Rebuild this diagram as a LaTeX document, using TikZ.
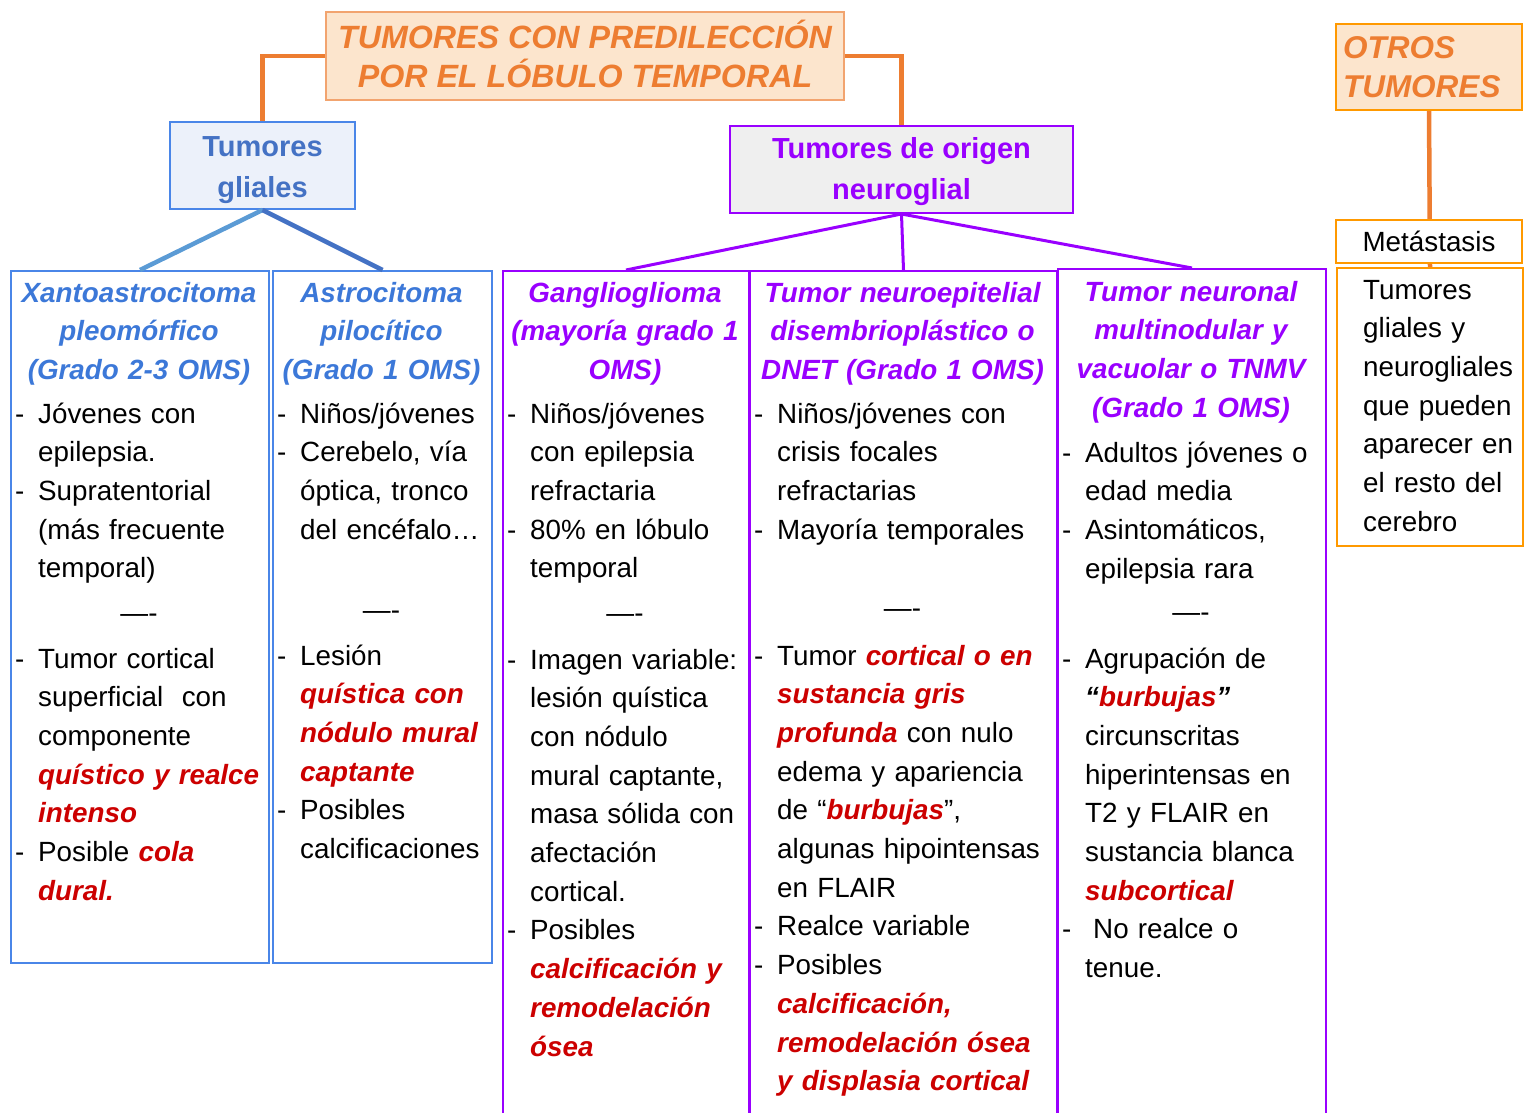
\documentclass[tikz,border=0pt]{standalone}
\usepackage{fontspec}
\setmainfont{Liberation Sans}
\usetikzlibrary{positioning,backgrounds}

\definecolor{orangeline}{HTML}{ED7D31}
\definecolor{orangeedge}{HTML}{FF9900}
\definecolor{orangefill}{HTML}{FCE5CD}
\definecolor{blueedge}{HTML}{4A86E8}
\definecolor{bluefill}{HTML}{ECF1FA}
\definecolor{bluetext}{HTML}{3C78D8}
\definecolor{bluelight}{HTML}{5B9BD5}
\definecolor{bluedark}{HTML}{4472C4}
\definecolor{purpleedge}{HTML}{9900FF}
\definecolor{greyfill}{HTML}{EFEFEF}
\definecolor{accentred}{HTML}{CC0000}

\newcommand{\hl}[1]{{\color{accentred}\bfseries\itshape #1}}
\newcommand{\bul}{\makebox[23pt][l]{-}}
\newcommand{\ind}{\hspace*{23pt}}

\begin{document}
\begin{tikzpicture}[x=1pt,y=-1pt,
    txt/.style={inner sep=0pt, font={\fontsize{27.8}{38.7}\selectfont}},
    colbody/.style={txt, anchor=base west, text width=300pt, align=left},
    colhead/.style={txt, anchor=base, text width=#1, align=center,
      font={\fontsize{27.8}{38.7}\selectfont\bfseries\itshape}},
    colsep/.style={txt, anchor=base},
    col/.style={line width=2pt, anchor=north west, inner sep=0pt},
    orangebox/.style={draw=orangeedge, fill=orangefill, line width=2pt, text=orangeline,
      inner sep=0pt, font={\fontsize{31.5}{39}\selectfont\bfseries\itshape}},
    groupbox/.style={line width=2pt, inner sep=0pt, align=center,
      font={\fontsize{29}{41}\selectfont\bfseries}},
    orangeconn/.style={draw=orangeline, line width=4.5pt},
  ]
  \useasboundingbox (0,0) rectangle (1527,1113);

  % top level
  \node[orangebox, draw=orangeline!70, line width=1.5pt, align=center,
    font={\fontsize{32.2}{38.7}\selectfont\bfseries\itshape},
    minimum width=518pt, minimum height=88pt] (top) at (585,56)
    {TUMORES CON PREDILECCIÓN\\POR EL LÓBULO TEMPORAL\rule[-5pt]{0pt}{5pt}};
  \node[groupbox, draw=blueedge, fill=bluefill, text=bluedark,
    minimum width=185pt, minimum height=87pt] (gli) at (262.5,165.5)
    {\rule{0pt}{28.8pt}Tumores\\gliales};
  \node[groupbox, draw=purpleedge, fill=greyfill, text=purpleedge,
    minimum width=343pt, minimum height=87pt] (neu) at (901.5,169.5)
    {\rule{0pt}{25.2pt}Tumores de origen\\neuroglial};

  % columns
  \node[col, draw=blueedge, minimum width=258pt, minimum height=692pt] (xan) at (10,270) {};
  \node[col, draw=blueedge, minimum width=219pt, minimum height=692pt] (ast) at (272,270) {};
  \node[col, draw=purpleedge, minimum width=246pt, minimum height=870pt] (gan) at (502,270) {};
  \node[col, draw=purpleedge, minimum width=307pt, minimum height=870pt] (dnet) at (749,270) {};
  \node[col, draw=purpleedge, minimum width=268pt, minimum height=870pt] (tnmv) at (1057,268) {};

  \draw[orangeconn] (top.west) -| (gli.north);
  \draw[orangeconn] (top.east) -| (neu.north);
  \draw[draw=bluelight, line width=4.5pt] (gli.south) -- (xan.north);
  \draw[draw=bluedark, line width=4.5pt] (gli.south) -- (ast.north);
  \foreach \c in {gan,dnet,tnmv}
    \draw[draw=purpleedge, line width=3pt] (neu.south) -- (\c.north);

  % Xantoastrocitoma
  \node[colhead=258pt, text=bluetext] (xanh) at (139,302)
    {Xantoastrocitoma\\pleomórfico\\(Grado 2-3 OMS)};
  \node[colbody] (xanu) at (15,423)
    {\bul Jóvenes con\\ \ind epilepsia.\\ \bul Supratentorial\\ \ind (más frecuente\\ \ind temporal)};
  \node[colsep] (xans) at (139,622) {—-};
  \node[colbody] (xanl) at (15,668)
    {\bul Tumor cortical\\ \ind superficial\ \ con\\ \ind componente\\ \ind \hl{quístico y realce}\\
     \ind \hl{intenso}\\ \bul Posible \hl{cola}\\ \ind \hl{dural.}};

  % Astrocitoma
  \node[colhead=219pt, text=bluetext] (asth) at (381.5,302)
    {Astrocitoma\\pilocítico\\(Grado 1 OMS)};
  \node[colbody] (astu) at (277,423)
    {\bul Niños/jóvenes\\ \bul Cerebelo, vía\\ \ind óptica, tronco\\ \ind del encéfalo…};
  \node[colsep] (asts) at (381.5,619) {—-};
  \node[colbody] (astl) at (277,665)
    {\bul Lesión\\ \ind \hl{quística con}\\ \ind \hl{nódulo mural}\\ \ind \hl{captante}\\
     \bul Posibles\\ \ind calcificaciones};

  % Ganglioglioma
  \node[colhead=246pt, text=purpleedge] (ganh) at (625,302)
    {Ganglioglioma\\(mayoría grado 1\\OMS)};
  \node[colbody] (ganu) at (507,423)
    {\bul Niños/jóvenes\\ \ind con epilepsia\\ \ind refractaria\\ \bul 80\% en lóbulo\\ \ind temporal};
  \node[colsep] (gans) at (625,622) {—-};
  \node[colbody] (ganl) at (507,669)
    {\bul Imagen variable:\\ \ind lesión quística\\ \ind con nódulo\\ \ind mural captante,\\
     \ind masa sólida con\\ \ind afectación\\ \ind cortical.\\ \bul Posibles\\
     \ind \hl{calcificación y}\\ \ind \hl{remodelación}\\ \ind \hl{ósea}};

  % DNET
  \node[colhead=307pt, text=purpleedge] (dneth) at (902.5,302)
    {Tumor neuroepitelial\\disembrioplástico o\\DNET (Grado 1 OMS)};
  \node[colbody] (dnetu) at (754,423)
    {\bul Niños/jóvenes con\\ \ind crisis focales\\ \ind refractarias\\ \bul Mayoría temporales};
  \node[colsep] (dnets) at (902.5,617) {—-};
  \node[colbody] (dnetl) at (754,665)
    {\bul Tumor \hl{cortical o en}\\ \ind \hl{sustancia gris}\\ \ind \hl{profunda} con nulo\\
     \ind edema y apariencia\\ \ind de “\hl{burbujas}”,\\ \ind algunas hipointensas\\
     \ind en FLAIR\\ \bul Realce variable\\ \bul Posibles\\ \ind \hl{calcificación,}\\
     \ind \hl{remodelación ósea}\\ \ind \hl{y displasia cortical}};

  % TNMV
  \node[colhead=268pt, text=purpleedge] (tnmvh) at (1191,301)
    {Tumor neuronal\\multinodular y\\vacuolar o TNMV\\(Grado 1 OMS)};
  \node[colbody] (tnmvu) at (1062,462)
    {\bul Adultos jóvenes o\\ \ind edad media\\ \bul Asintomáticos,\\ \ind epilepsia rara};
  \node[colsep] (tnmvs) at (1191,621) {—-};
  \node[colbody] (tnmvl) at (1062,668)
    {\bul Agrupación de\\ \ind {\bfseries\itshape “}\hl{burbujas}{\bfseries\itshape ”}\\
     \ind circunscritas\\ \ind hiperintensas en\\ \ind T2 y FLAIR en\\ \ind sustancia blanca\\
     \ind \hl{subcortical}\\ \bul\hspace{8pt}No realce o\\ \ind tenue.};

  % otros tumores
  \node[orangebox, align=left, text width=172pt, inner xsep=7pt,
    minimum height=86pt] (otros) at (1429,67) {OTROS\\TUMORES};
  \node[draw=orangeedge, fill=white, line width=2pt, txt,
    minimum width=186pt, minimum height=43pt] (met) at (1429,241.5) {Metástasis};
  \node[col, draw=orangeedge, minimum width=186pt, minimum height=278pt] (low) at (1336,267) {};
  \node[colbody] (lowt) at (1363,299)
    {Tumores\\gliales y\\neurogliales\\que pueden\\aparecer en\\el resto del\\cerebro};
  \begin{scope}[on background layer]
    \draw[orangeconn] (otros.south) -- (low.north);
  \end{scope}
\end{tikzpicture}
\end{document}
